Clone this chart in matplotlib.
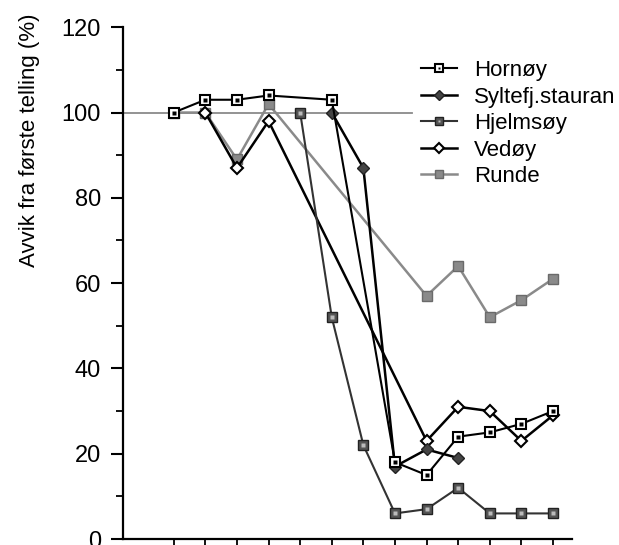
import numpy as np
import matplotlib
matplotlib.use('Agg')
import matplotlib.pyplot as plt
from matplotlib.legend_handler import HandlerTuple

plt.rcParams['font.family'] = ['Liberation Sans', 'DejaVu Sans']

# telling nr. (0..12), verdier i % av første telling
x = np.arange(13)
nan = np.nan

hornoy = [100, 103, 103, 104, nan, 103, nan, 18, 15, 24, 25, 27, 30]
syltefj = [nan, nan, nan, nan, nan, 100, 87, 17, 21, 19, nan, nan, nan]
hjelmsoy = [nan, nan, nan, nan, 100, 52, 22, 6, 7, 12, 6, 6, 6]
vedoy = [nan, 100, 87, 98, nan, nan, nan, nan, 23, 31, 30, 23, 29]
runde = [100, 100, 89, 102, nan, nan, nan, nan, 57, 64, 52, 56, 61]


def series(vals):
    v = np.array(vals, dtype=float)
    m = ~np.isnan(v)
    return x[m], v[m]


fig = plt.figure(figsize=(6.19, 5.45), dpi=100)
ax = fig.add_axes([0.199, 0.011, 0.725, 0.939])

ax.axhline(100, xmin=0, xmax=0.644, color='#8a8a8a', lw=1.3, zorder=1)

h_r, = ax.plot(*series(runde), color='#8a8a8a', lw=1.8, marker='s', ms=7.5,
               mfc='#8a8a8a', mec='#6a6a6a', zorder=2)
h_v, = ax.plot(*series(vedoy), color='black', lw=1.8, marker='D', ms=6,
               mfc='white', mec='black', mew=1.5, zorder=3)
h_hj, = ax.plot(*series(hjelmsoy), color='#333333', lw=1.5, marker='s', ms=7.5,
                mfc='#555555', mec='#222222', zorder=3)
d_hj, = ax.plot(*series(hjelmsoy), ls='none', marker='s', ms=2.5,
                mfc='#bbbbbb', mec='none', zorder=4)
h_s, = ax.plot(*series(syltefj), color='black', lw=1.8, marker='D', ms=6,
               mfc='#444444', mec='#222222', zorder=3)
h_h, = ax.plot(*series(hornoy), color='black', lw=1.5, marker='s', ms=7.5,
               mfc='white', mec='black', mew=1.5, zorder=5)
d_h, = ax.plot(*series(hornoy), ls='none', marker='s', ms=2.2,
               mfc='black', mec='none', zorder=6)

ax.set_xlim(-1.6, 12.6)
ax.set_ylim(0, 120)
ax.set_xticks(x)
ax.set_xticklabels([])
ax.set_yticks([0, 20, 40, 60, 80, 100, 120])
ax.set_yticks(np.arange(10, 120, 20), minor=True)
ax.tick_params(axis='y', which='major', length=9, width=1.5, labelsize=17, pad=7)
ax.tick_params(axis='y', which='minor', length=5, width=1.3)
ax.tick_params(axis='x', length=10, width=1.3)

for s in ['top', 'right']:
    ax.spines[s].set_visible(False)
for s in ['left', 'bottom']:
    ax.spines[s].set_linewidth(1.6)

ax.set_ylabel('Avvik fra første telling (%)', fontsize=16)
ax.yaxis.set_label_coords(-0.185, 0.78)

ax.legend([(h_h, d_h), h_s, (h_hj, d_hj), h_v, h_r],
          ['Hornøy', 'Syltefj.stauran', 'Hjelmsøy', 'Vedøy', 'Runde'],
          handler_map={tuple: HandlerTuple(ndivide=1)},
          loc='upper left', bbox_to_anchor=(0.62, 0.975), frameon=False,
          fontsize=16, handlelength=1.6, labelspacing=0.25, handletextpad=0.75,
          markerscale=0.85)

fig.savefig('out.png', dpi=100)
